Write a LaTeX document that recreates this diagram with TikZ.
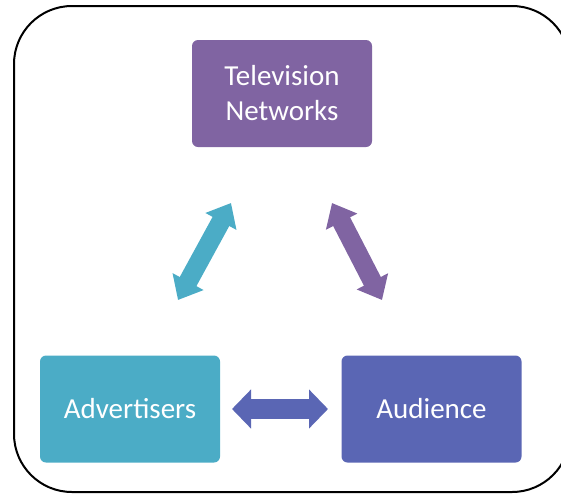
\documentclass[tikz,border=0pt]{standalone}
\usepackage{fontspec}
\setmainfont{Carlito}
\usetikzlibrary{arrows.meta}
\definecolor{tvpurple}{HTML}{8064A2}
\definecolor{adteal}{HTML}{4BACC6}
\definecolor{audblue}{HTML}{5A66B4}
\tikzset{
  block/.style={rounded corners=6pt, minimum width=180pt, minimum height=107pt,
    text=white, font=\fontsize{29}{35}\selectfont, align=center, inner sep=0pt},
  diagtip/.tip={Triangle[width=34pt,length=21pt]},
  flattip/.tip={Triangle[width=38pt,length=19pt]},
}
\begin{document}
\begin{tikzpicture}[x=1pt,y=-1pt]
  \useasboundingbox (0,0) rectangle (561,493);
  % outer frame
  \draw[line width=2pt, rounded corners=58pt] (14,6) rectangle (570,492);

  % blocks
  \node[block, fill=tvpurple] (tv) at (282,93.5) {Television\\Networks};
  \node[block, fill=adteal] (adv) at (130,409) {Advertisers};
  \node[block, fill=audblue] (aud) at (431.5,409) {Audience};

  % connector end points
  \coordinate (a1) at (178,300);
  \coordinate (a2) at (231,203);
  \coordinate (p1) at (332,203);
  \coordinate (p2) at (382,300);
  \coordinate (h1) at (232,409);
  \coordinate (h2) at (328,409);

  % two-way block arrows
  \draw[adteal, line width=19pt, {diagtip}-{diagtip}] (a1) -- (a2);
  \draw[tvpurple, line width=19pt, {diagtip}-{diagtip}] (p1) -- (p2);
  \draw[audblue, line width=20pt, {flattip}-{flattip}] (h1) -- (h2);
\end{tikzpicture}
\end{document}
